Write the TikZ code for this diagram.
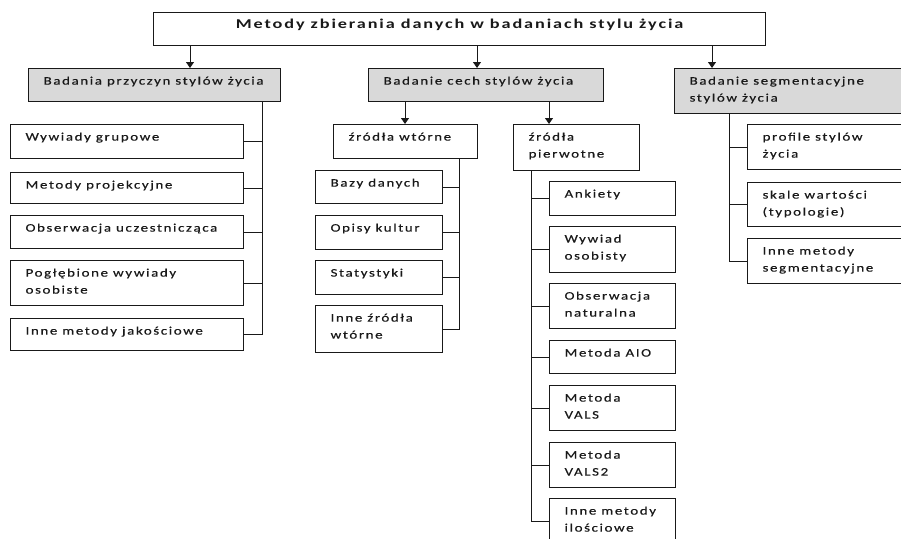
\documentclass[tikz,border=0pt]{standalone}
\usepackage{fontspec}
\setmainfont[FakeStretch=1.3,LetterSpace=14,FakeBold=0.4]{Carlito}
\newfontfamily\titlefont[FakeStretch=1.35,LetterSpace=14]{Carlito}
\usetikzlibrary{arrows.meta}
\definecolor{headgray}{RGB}{217,217,217}
\definecolor{ink}{RGB}{25,25,25}

% \cellbox{x1}{y1}{x2}{y2}{name}{style}{text}: a box whose text starts at its top left
\newcommand{\cellbox}[7]{%
  \pgfmathsetmacro\cellw{#3-#1-30}%
  \pgfmathsetmacro\cellh{#4-#2}%
  \node[#6] (#5) at (#1,#2)
    {\parbox[c][\cellh pt][t]{\cellw pt}{\raggedright\rule{0pt}{16pt}#7}};}

\begin{document}
\begin{tikzpicture}[x=1pt,y=-1pt,
  every node/.style={font=\fontsize{11.5}{17}\selectfont, text=ink},
  cell/.style={draw=ink, line width=1.2pt, rectangle, inner xsep=15pt,
               inner ysep=0pt, anchor=north west},
  head/.style={cell, fill=headgray},
  link/.style={draw=ink, line width=1pt},
  arr/.style={link, -{Triangle[width=8pt,length=6pt]}}]
\useasboundingbox (0,0) rectangle (901,538);
\clip (0,0) rectangle (901,538);

% top box
\node[cell, inner xsep=0pt, font=\titlefont\fontsize{13.5}{15}\selectfont\bfseries]
  (title) at (153,12)
  {\parbox[c][33pt][t]{612pt}{\centering\rule{0pt}{16pt}Metody zbierania danych w badaniach stylu życia}};

% first level
\cellbox{28}{68}{280}{101}{A}{head}{Badania przyczyn stylów życia}
\cellbox{368}{68}{603}{101}{B}{head}{Badanie cech stylów życia}
\cellbox{674}{68}{920}{113}{C}{head}{Badanie segmentacyjne\\stylów życia}

% qualitative methods
\cellbox{10}{124}{243}{158}{l1}{cell}{Wywiady grupowe}
\cellbox{10}{172}{243}{203}{l2}{cell}{Metody projekcyjne}
\cellbox{10}{215}{243}{248}{l3}{cell}{Obserwacja uczestnicząca}
\cellbox{10}{260}{243}{305}{l4}{cell}{Pogłębione wywiady\\osobiste}
\cellbox{10}{318}{243}{350}{l5}{cell}{Inne metody jakościowe}

% secondary sources
\cellbox{333}{124}{477}{158}{w}{cell}{źródła wtórne}
\cellbox{315}{170}{442}{203}{w1}{cell}{Bazy danych}
\cellbox{315}{215}{442}{249}{w2}{cell}{Opisy kultur}
\cellbox{315}{260}{442}{294}{w3}{cell}{Statystyki}
\cellbox{315}{305}{442}{352}{w4}{cell}{Inne źródła\\wtórne}

% primary sources
\cellbox{513}{124}{639}{170}{p}{cell}{źródła\\pierwotne}
\cellbox{549}{181}{675}{215}{p1}{cell}{Ankiety}
\cellbox{549}{226}{675}{272}{p2}{cell}{Wywiad\\osobisty}
\cellbox{549}{283}{675}{328}{p3}{cell}{Obserwacja\\naturalna}
\cellbox{549}{340}{675}{373}{p4}{cell}{Metoda AIO}
\cellbox{549}{385}{675}{430}{p5}{cell}{Metoda\\VALS}
\cellbox{549}{442}{675}{487}{p6}{cell}{Metoda\\VALS2}
\cellbox{549}{498}{675}{544}{p7}{cell}{Inne metody\\ilościowe}

% segmentation
\cellbox{747}{124}{920}{169}{s1}{cell}{profile stylów\\życia}
\cellbox{747}{182}{920}{226}{s2}{cell}{skale wartości\\(typologie)}
\cellbox{747}{238}{920}{283}{s3}{cell}{Inne metody\\segmentacyjne}

% arrows from the top box and from the middle group
\draw[arr] (title.south -| 190,0) -- (A.north -| 190,0);
\draw[arr] (title.south -| 477,0) -- (B.north -| 477,0);
\draw[arr] (title.south -| 712,0) -- (C.north -| 712,0);
\draw[arr] (B.south -| 405,0) -- (w.north -| 405,0);
\draw[arr] (B.south -| 549,0) -- (p.north -| 549,0);

% spines with branches
\draw[link] (A.south -| 262,0) |- (l5.east);
\foreach \n in {l1,l2,l3,l4} \draw[link] (\n.east) -- (\n.east -| 262,0);

\draw[link] (w.south -| 459,0) |- (w4.east);
\foreach \n in {w1,w2,w3} \draw[link] (\n.east) -- (\n.east -| 459,0);

\draw[link] (p.south -| 531,0) |- (p7.west);
\foreach \n in {p1,p2,p3,p4,p5,p6} \draw[link] (\n.west) -- (\n.west -| 531,0);

\draw[link] (C.south -| 729,0) |- (s3.west);
\foreach \n in {s1,s2} \draw[link] (\n.west) -- (\n.west -| 729,0);
\end{tikzpicture}
\end{document}
